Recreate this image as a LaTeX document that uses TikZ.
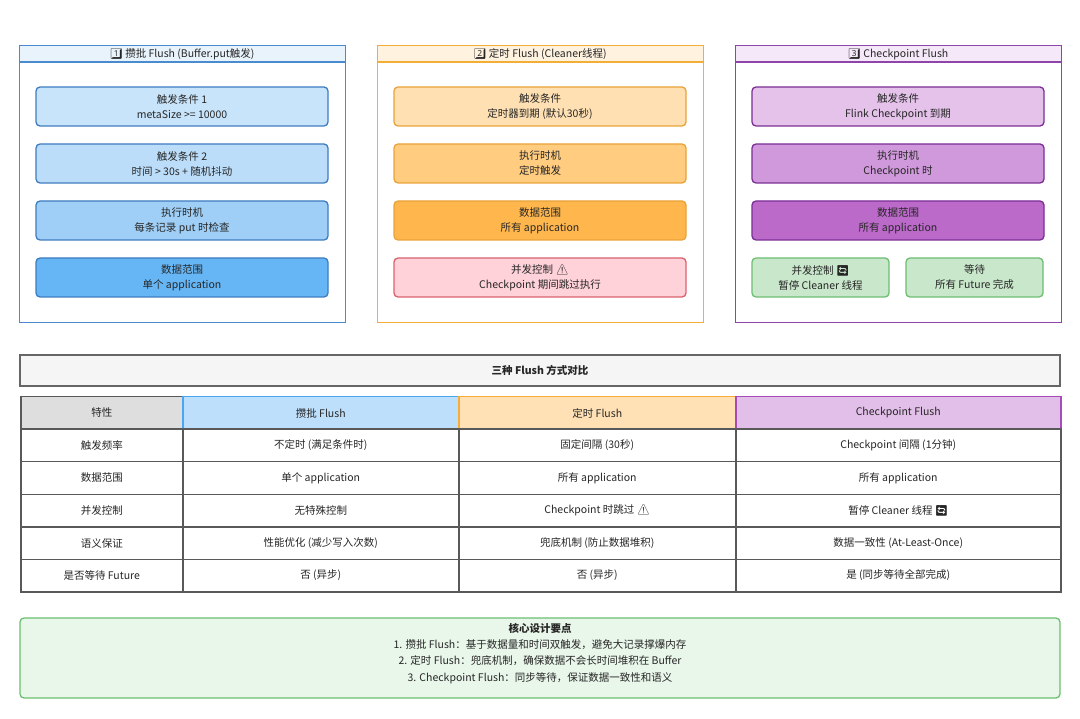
\documentclass[tikz,border=0pt]{standalone}
\usepackage{fontspec}
\setmainfont{Noto Sans CJK SC}
\newfontfamily\emoji{Noto Emoji}
\definecolor{cblue}{HTML}{4A8BD0}
\definecolor{cblueb}{HTML}{E8F3FC}
\definecolor{corange}{HTML}{F2AE35}
\definecolor{corangeb}{HTML}{FFF3E0}
\definecolor{cpurple}{HTML}{8E44A8}
\definecolor{cpurpleb}{HTML}{F5E8F8}
\definecolor{bB}{HTML}{3E7CC0}
\definecolor{b1}{HTML}{C8E4FA}
\definecolor{b2}{HTML}{BBDDF9}
\definecolor{b3}{HTML}{9FCFF6}
\definecolor{b4}{HTML}{66B6F5}
\definecolor{oB}{HTML}{E8A33A}
\definecolor{o1}{HTML}{FFE0B2}
\definecolor{o2}{HTML}{FFCC80}
\definecolor{o3}{HTML}{FFB74D}
\definecolor{rB}{HTML}{D9636D}
\definecolor{r1}{HTML}{FFD1D8}
\definecolor{pB}{HTML}{7B2F95}
\definecolor{p1}{HTML}{E4C2EA}
\definecolor{p2}{HTML}{D099DB}
\definecolor{p3}{HTML}{BB6AC9}
\definecolor{gB}{HTML}{6DBF72}
\definecolor{g1}{HTML}{C9E7CB}
\definecolor{g2}{HTML}{E9F6EA}
\definecolor{hB}{HTML}{49A6F2}
\definecolor{h1}{HTML}{BDDFFB}
\definecolor{hO}{HTML}{F8AC3A}
\definecolor{h2}{HTML}{FFE1B5}
\definecolor{hP}{HTML}{A64BB8}
\definecolor{h3}{HTML}{E2BFE8}
\begin{document}
\begin{tikzpicture}[x=1pt,y=-1pt,
  every node/.style={font=\fontsize{10.5}{15}\selectfont, align=center, inner sep=0pt, text=black!85},
  clus/.style={draw=#1, line width=1.3pt},
  ibox/.style={draw=#1, line width=1.3pt, rounded corners=4pt},
  cell/.style={draw=black!65, line width=1.5pt, fill=white, anchor=north west, minimum height=32.5pt},
]
\useasboundingbox (0,0) rectangle (1080,719);
\fill[white] (0,0) rectangle (1080,719);
\foreach \xx/\bd/\bg/\nm in {19/cblue/cblueb/c1, 377/corange/corangeb/c2, 735/cpurple/cpurpleb/c3}{
  \fill[\bg] (\xx,45) rectangle ++(326,17);
  \draw[\bd, line width=1.3pt] (\xx,62) -- ++(326,0);
  \node[clus=\bd, minimum width=326pt, minimum height=277pt, anchor=north west] (\nm) at (\xx,45) {};
}
\node (t1) at (182,54) {{\emoji 1️⃣} 攒批 Flush (Buffer.put触发)};
\node (t2) at (540,54) {{\emoji 2️⃣} 定时 Flush (Cleaner线程)};
\node (t3) at (898,54) {{\emoji 3️⃣} Checkpoint Flush};
\tikzset{ib/.style 2 args={ibox=#1, fill=#2, minimum width=292pt, minimum height=39pt}}
\node[ib={bB}{b1}] (a1) at (182,106.5) {触发条件 1\\metaSize >= 10000};
\node[ib={bB}{b2}] (a2) at (182,163.5) {触发条件 2\\时间 > 30s + 随机抖动};
\node[ib={bB}{b3}] (a3) at (182,220.5) {执行时机\\每条记录 put 时检查};
\node[ib={bB}{b4}] (a4) at (182,277.5) {数据范围\\单个 application};
\node[ib={oB}{o1}] (b1) at (540,106.5) {触发条件\\定时器到期 (默认30秒)};
\node[ib={oB}{o2}] (b2) at (540,163.5) {执行时机\\定时触发};
\node[ib={oB}{o3}] (b3) at (540,220.5) {数据范围\\所有 application};
\node[ib={rB}{r1}] (b4) at (540,277.5) {并发控制 {\emoji ⚠️}\\Checkpoint 期间跳过执行};
\node[ib={pB}{p1}] (p1) at (898,106.5) {触发条件\\Flink Checkpoint 到期};
\node[ib={pB}{p2}] (p2) at (898,163.5) {执行时机\\Checkpoint 时};
\node[ib={pB}{p3}] (p3) at (898,220.5) {数据范围\\所有 application};
\node[ibox=gB, fill=g1, minimum width=137pt, minimum height=39pt] (p4) at (820.5,277.5) {并发控制 {\emoji 🔄}\\暂停 Cleaner 线程};
\node[ibox=gB, fill=g1, minimum width=137pt, minimum height=39pt] (p5) at (974.5,277.5) {等待\\所有 Future 完成};
\node[draw=black!60, line width=1.2pt, fill=black!4, minimum width=1040pt, minimum height=31pt, font=\fontsize{10.5}{15}\selectfont\bfseries] (tt) at (540,370.5) {三种 Flush 方式对比};
\node[cell, fill=black!13, minimum width=162pt] (h0) at (20,396) {特性};
\node[cell, draw=hB, fill=h1, minimum width=276pt] (h1) at (182,396) {攒批 Flush};
\node[cell, draw=hO, fill=h2, minimum width=277pt] (h2) at (458,396) {定时 Flush};
\node[cell, draw=hP, fill=h3, minimum width=325pt] (h3) at (735,396) {Checkpoint Flush};
\foreach \r/\yy/\c/\d/\e/\f in {
 1/428.5/触发频率/不定时 (满足条件时)/固定间隔 (30秒)/Checkpoint 间隔 (1分钟),
 2/461/数据范围/单个 application/所有 application/所有 application,
 3/493.5/并发控制/无特殊控制/{Checkpoint 时跳过 {\emoji ⚠️}}/{暂停 Cleaner 线程 {\emoji 🔄}},
 4/526/语义保证/性能优化 (减少写入次数)/兜底机制 (防止数据堆积)/数据一致性 (At-Least-Once),
 5/558.5/是否等待 Future/否 (异步)/否 (异步)/是 (同步等待全部完成)}{
  \node[cell, minimum width=162pt] (r\r c0) at (20,\yy) {\c};
  \node[cell, minimum width=276pt] (r\r c1) at (182,\yy) {\d};
  \node[cell, minimum width=277pt] (r\r c2) at (458,\yy) {\e};
  \node[cell, minimum width=325pt] (r\r c3) at (735,\yy) {\f};
}
\node[draw=gB, line width=1.3pt, fill=g2, rounded corners=4pt, minimum width=1040pt, minimum height=80pt] (bx) at (540,658) {};
\node[font=\fontsize{10.5}{15}\selectfont\bfseries] (bt) at (540,628) {核心设计要点};
\node[anchor=north, font=\fontsize{10.5}{16.5}\selectfont] (bl) at (540,639) {1. 攒批 Flush：基于数据量和时间双触发，避免大记录撑爆内存\\2. 定时 Flush：兜底机制，确保数据不会长时间堆积在 Buffer\\3. Checkpoint Flush：同步等待，保证数据一致性和语义};
\end{tikzpicture}
\end{document}
